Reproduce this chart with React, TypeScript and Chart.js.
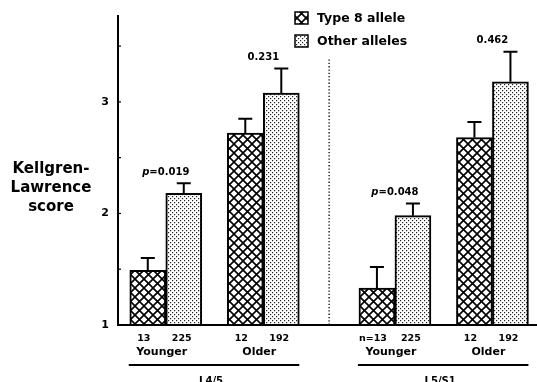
import React, { useEffect, useRef } from 'react';
import { Chart, registerables } from 'chart.js';

Chart.register(...registerables);

// ---- data ----
const sections = ['L4/5', 'L5/S1'];
const ageGroups = ['Younger', 'Older', 'Younger', 'Older'];
const seriesLabels = ['Type 8 allele', 'Other alleles'];
const type8Means = [1.49, 2.72, 1.33, 2.68];
const type8Errors = [0.11, 0.13, 0.19, 0.14];
const otherMeans = [2.18, 3.08, 1.98, 3.18];
const otherErrors = [0.09, 0.22, 0.11, 0.27];
const type8Counts = ['13', '12', 'n=13', '12'];
const otherCounts = ['225', '192', '225', '192'];
const pValues = ['0.019', '0.231', '0.048', '0.462'];
const pPrefixed = [true, false, true, false];
const yTickValues = [1, 1.5, 2, 2.5, 3, 3.5];
const yLabelled = [1, 2, 3];
const yTitleLines = ['Kellgren-', 'Lawrence', 'score'];

// ---- layout ----
const SECTION_GAP = 0.35;
const X_MIN = -0.49;
const X_MAX = 3.807;
const Y_MIN = 1;
const Y_MAX = 3.77;
const BAR_W = 36;
const FONT = "'DejaVu Sans', 'Liberation Sans', Arial, sans-serif";

const groupX = (i: number) => (i % 2) + Math.floor(i / 2) * (2 + SECTION_GAP);

function makeCrossHatch(): CanvasPattern | string {
  const c = document.createElement('canvas');
  const s = 9;
  c.width = s;
  c.height = s;
  const g = c.getContext('2d');
  if (!g) return '#fff';
  g.fillStyle = '#fff';
  g.fillRect(0, 0, s, s);
  g.strokeStyle = '#000';
  g.lineWidth = 1.6;
  for (const dx of [-s, 0, s]) {
    g.beginPath();
    g.moveTo(dx - 1, -1);
    g.lineTo(dx + s + 1, s + 1);
    g.moveTo(dx - 1, s + 1);
    g.lineTo(dx + s + 1, -1);
    g.stroke();
  }
  return g.createPattern(c, 'repeat') || '#fff';
}

function makeDots(): CanvasPattern | string {
  const c = document.createElement('canvas');
  const s = 4;
  c.width = s;
  c.height = s;
  const g = c.getContext('2d');
  if (!g) return '#ddd';
  g.fillStyle = '#fff';
  g.fillRect(0, 0, s, s);
  g.fillStyle = '#222';
  g.fillRect(0, 0, 1.2, 1.2);
  g.fillRect(2, 2, 1.2, 1.2);
  return g.createPattern(c, 'repeat') || '#ddd';
}

export default function App() {
  const ref = useRef<HTMLCanvasElement | null>(null);

  useEffect(() => {
    if (!ref.current) return;
    const hatch = makeCrossHatch();
    const dots = makeDots();
    const fills = [hatch, dots];
    const errors = [type8Errors, otherErrors];
    const means = [type8Means, otherMeans];

    const annotate = {
      id: 'annotate',
      afterDatasetsDraw(chart: any) {
        const ctx: CanvasRenderingContext2D = chart.ctx;
        const xs = chart.scales.x;
        const ys = chart.scales.y;
        const area = chart.chartArea;
        const base = ys.getPixelForValue(Y_MIN);
        ctx.save();
        ctx.strokeStyle = '#000';
        ctx.fillStyle = '#000';

        // baseline
        ctx.lineWidth = 2;
        ctx.beginPath();
        ctx.moveTo(area.left - 1, base);
        ctx.lineTo(area.right, base);
        ctx.stroke();

        // inward minor ticks
        ctx.lineWidth = 1.2;
        yTickValues.forEach((v) => {
          if (v === Y_MIN) return;
          const py = ys.getPixelForValue(v);
          ctx.beginPath();
          ctx.moveTo(area.left, py);
          ctx.lineTo(area.left + 3, py);
          ctx.stroke();
        });

        // error bars
        const capTops: number[] = [Infinity, Infinity, Infinity, Infinity];
        [0, 1].forEach((d) => {
          const meta = chart.getDatasetMeta(d);
          meta.data.forEach((bar: any, i: number) => {
            const top = ys.getPixelForValue(means[d][i]);
            const cap = ys.getPixelForValue(means[d][i] + errors[d][i]);
            capTops[i] = Math.min(capTops[i], cap);
            ctx.lineWidth = 2;
            ctx.beginPath();
            ctx.moveTo(bar.x, top);
            ctx.lineTo(bar.x, cap);
            ctx.moveTo(bar.x - 7, cap);
            ctx.lineTo(bar.x + 7, cap);
            ctx.stroke();
          });
        });

        // dotted separator
        const sepX = xs.getPixelForValue((groupX(1) + groupX(2)) / 2);
        ctx.lineWidth = 1.3;
        ctx.setLineDash([1.3, 2]);
        ctx.beginPath();
        ctx.moveTo(sepX, ys.getPixelForValue(3.38));
        ctx.lineTo(sepX, base);
        ctx.stroke();
        ctx.setLineDash([]);

        // p values
        ctx.textBaseline = 'middle';
        pValues.forEach((p, i) => {
          const cx = xs.getPixelForValue(groupX(i));
          const py = capTops[i] - 11;
          const bold = `bold 10px ${FONT}`;
          const ital = `italic bold 10px ${FONT}`;
          const rest = pPrefixed[i] ? '=' + p : p;
          ctx.font = ital;
          const wp = pPrefixed[i] ? ctx.measureText('p').width : 0;
          ctx.font = bold;
          const wr = ctx.measureText(rest).width;
          let sx = cx - (wp + wr) / 2;
          ctx.textAlign = 'left';
          if (pPrefixed[i]) {
            ctx.font = ital;
            ctx.fillText('p', sx, py);
            sx += wp;
          }
          ctx.font = bold;
          ctx.fillText(rest, sx, py);
        });

        // counts under bars
        ctx.textAlign = 'center';
        ctx.font = `bold 9.5px ${FONT}`;
        const m0 = chart.getDatasetMeta(0);
        const m1 = chart.getDatasetMeta(1);
        m0.data.forEach((bar: any, i: number) => {
          ctx.fillText(type8Counts[i], bar.x - 4, base + 14);
        });
        m1.data.forEach((bar: any, i: number) => {
          ctx.fillText(otherCounts[i], bar.x - 2, base + 14);
        });

        // age groups
        ctx.font = `bold 11px ${FONT}`;
        ageGroups.forEach((g, i) => {
          ctx.fillText(g, xs.getPixelForValue(groupX(i)) - 4, base + 27);
        });

        // sections
        sections.forEach((s, k) => {
          const l = m0.data[2 * k].x - BAR_W / 2 - 1;
          const r = m1.data[2 * k + 1].x + BAR_W / 2;
          const ly = base + 40;
          ctx.lineWidth = 2;
          ctx.beginPath();
          ctx.moveTo(l, ly);
          ctx.lineTo(r, ly);
          ctx.stroke();
          ctx.font = `bold 10px ${FONT}`;
          ctx.textBaseline = 'top';
          ctx.fillText(s, (l + r) / 2 - 3, ly + 11);
          ctx.textBaseline = 'middle';
        });

        // y title
        ctx.font = `bold 15px ${FONT}`;
        ctx.textAlign = 'center';
        ctx.textBaseline = 'alphabetic';
        yTitleLines.forEach((t, i) => {
          ctx.fillText(t, 51, 173 + i * 19);
        });

        // legend
        ctx.textAlign = 'left';
        ctx.textBaseline = 'middle';
        ctx.font = `bold 12.5px ${FONT}`;
        seriesLabels.forEach((lab, d) => {
          const cy = 18 + d * 23;
          ctx.fillStyle = fills[d] as any;
          ctx.fillRect(295, cy - 6, 13, 12);
          ctx.lineWidth = 1.5;
          ctx.strokeRect(295, cy - 6, 13, 12);
          ctx.fillStyle = '#000';
          ctx.fillText(lab, 317, cy + 0.5);
        });

        ctx.restore();
      },
    };

    const chart = new Chart(ref.current, {
      type: 'bar',
      data: {
        datasets: [0, 1].map((d) => ({
          label: seriesLabels[d],
          data: means[d].map((v, i) => ({ x: groupX(i), y: v })),
          backgroundColor: fills[d] as any,
          borderColor: '#000',
          borderWidth: 2,
          barThickness: BAR_W,
        })),
      },
      options: {
        responsive: false,
        animation: false,
        devicePixelRatio: 1,
        layout: { padding: { top: 16, bottom: 57, left: 0, right: 0 } },
        plugins: {
          legend: { display: false },
          tooltip: { enabled: false },
          title: { display: false },
        },
        scales: {
          x: {
            type: 'linear',
            min: X_MIN,
            max: X_MAX,
            offset: false,
            display: false,
          },
          y: {
            type: 'linear',
            min: Y_MIN,
            max: Y_MAX,
            afterFit: (scale: any) => {
              scale.width = 118;
            },
            afterBuildTicks: (scale: any) => {
              scale.ticks = yTickValues.map((v) => ({ value: v }));
            },
            ticks: {
              padding: 9,
              color: '#000',
              font: { family: FONT, weight: 'bold', size: 11 },
              callback: (v: any) => (yLabelled.includes(Number(v)) ? String(v) : ''),
            },
            grid: { display: false, drawTicks: false },
            border: { display: true, color: '#000', width: 2 },
          },
        },
      },
      plugins: [annotate],
    } as any);

    return () => chart.destroy();
  }, []);

  return (
    <div style={{ position: 'fixed', left: 0, top: 0, width: 537, height: 382, background: '#fff' }}>
      <canvas ref={ref} width={537} height={382} style={{ width: 537, height: 382, display: 'block' }} />
    </div>
  );
}
